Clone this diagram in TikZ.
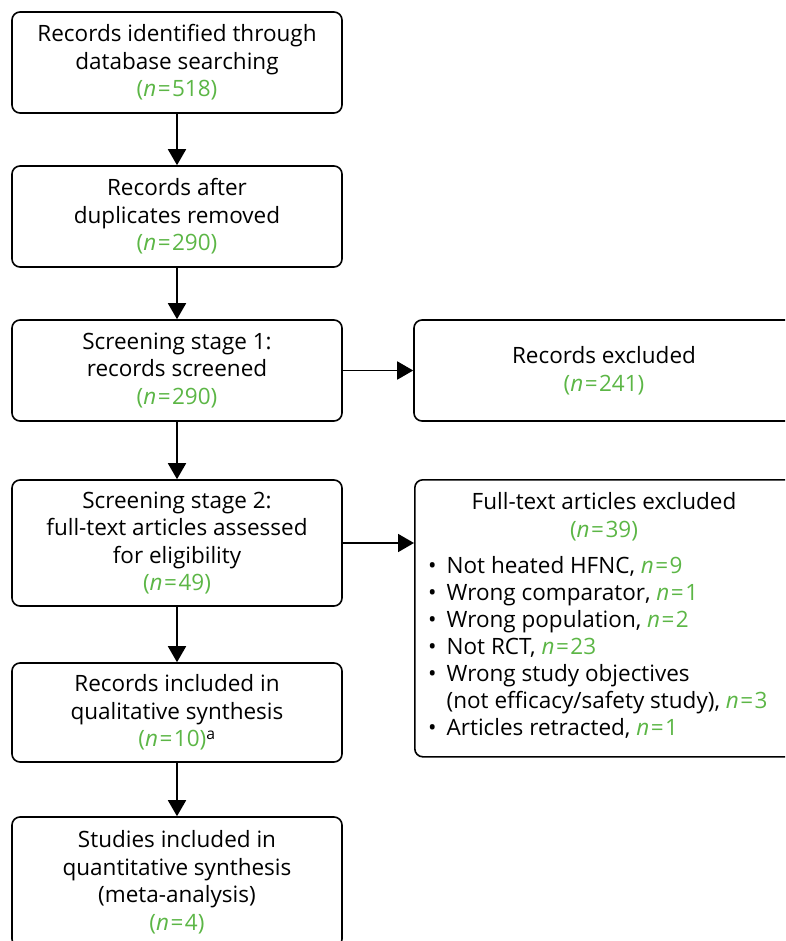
\documentclass[tikz,border=0pt]{standalone}
\usepackage{fontspec}
\setmainfont{Open Sans}
\usetikzlibrary{arrows.meta,positioning}
\definecolor{nGreen}{RGB}{92,182,70}
\newcommand{\nval}[1]{\textcolor{nGreen}{(\textit{n}\kern1.5pt=\kern1.5pt#1)}}
\newcommand{\nitem}[1]{\textcolor{nGreen}{\textit{n}\kern1.5pt=\kern1.5pt#1}}

\begin{document}
\begin{tikzpicture}[x=1pt,y=-1pt,
    box/.style={draw, line width=1.6pt, rounded corners=8pt, align=center,
                minimum width=330pt, font=\fontsize{22.5}{27.5}\selectfont},
    arrow/.style={-{Triangle[length=16pt,width=18pt]}, line width=1.8pt}]
  \useasboundingbox (0,0) rectangle (785,941);
  \clip (0,0) rectangle (785,941);

  % left column
  \node[box, minimum height=101pt] (ident) at (177,62.5)
    {Records identified through\\database searching\\\nval{518}};
  \node[box, minimum height=101pt] (dedup) at (177,216.5)
    {Records after\\duplicates removed\\\nval{290}};
  \node[box, minimum height=101pt] (screen1) at (177,370.5)
    {Screening stage 1:\\records screened\\\nval{290}};
  \node[box, minimum height=126pt] (screen2) at (177,543)
    {Screening stage 2:\\full-text articles assessed\\for eligibility\\\nval{49}};
  \node[box, minimum height=99pt] (qual) at (177,712.5)
    {Records included in\\qualitative synthesis\\\nval{10}\textsuperscript{a}};
  \node[box, minimum height=130pt] (quant) at (177,882)
    {Studies included in\\quantitative synthesis\\(meta-analysis)\\\nval{4}};

  % right column
  \node[box, minimum width=380pt, minimum height=101pt] (recexc) at (604,370.5)
    {Records excluded\\\nval{241}};
  \node[box, minimum width=380pt, minimum height=277pt, anchor=north west] (fullexc) at (414,479) {};
  \node[align=center, font=\fontsize{22.5}{27.5}\selectfont, anchor=north] (fulltitle) at (604,489)
    {Full-text articles excluded\\\nval{39}};
  \node[font=\fontsize{22.5}{27}\selectfont, anchor=north west, inner sep=0pt] (fulllist) at (428,554)
    {\begin{tabular}{@{}l@{\hspace{10pt}}l@{}}
      \textbullet & Not heated HFNC, \nitem{9}\\
      \textbullet & Wrong comparator, \nitem{1}\\
      \textbullet & Wrong population, \nitem{2}\\
      \textbullet & Not RCT, \nitem{23}\\
      \textbullet & Wrong study objectives\\
                  & (not efficacy/safety study), \nitem{3}\\
      \textbullet & Articles retracted, \nitem{1}
    \end{tabular}};

  % connectors
  \draw[arrow] (ident) -- (dedup);
  \draw[arrow] (dedup) -- (screen1);
  \draw[arrow] (screen1) -- (screen2);
  \draw[arrow] (screen2) -- (qual);
  \draw[arrow] (qual) -- (quant);
  \draw[arrow] (screen1) -- (recexc);
  \draw[arrow] (screen2.east) -- (screen2.east -| fullexc.west);
\end{tikzpicture}
\end{document}
